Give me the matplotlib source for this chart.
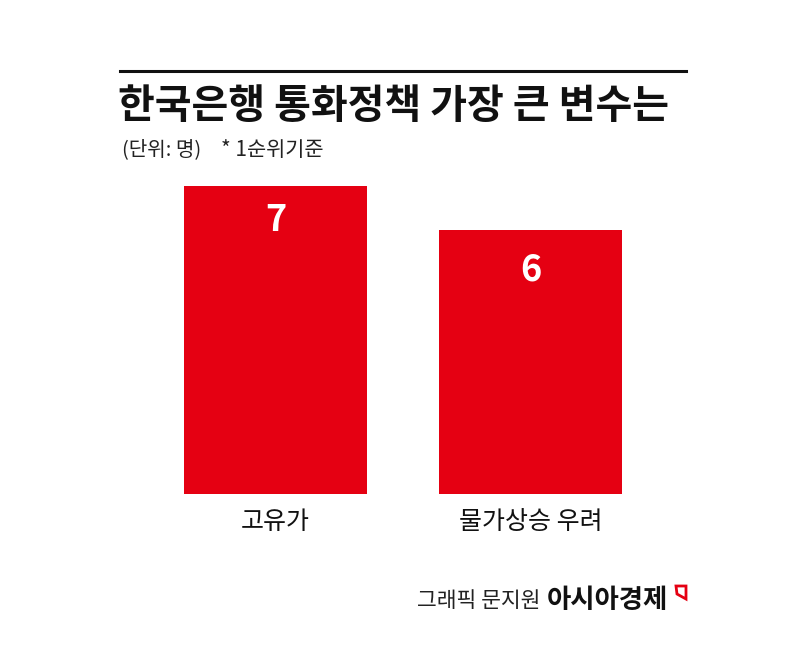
import matplotlib.pyplot as plt
from matplotlib.patches import Polygon

plt.rcParams['font.family'] = ['Noto Sans CJK KR', 'DejaVu Sans']

categories = ['고유가', '물가상승 우려']
values = [7, 6]

title = '한국은행 통화정책 가장 큰 변수는'
unit_note = '(단위: 명)'
rank_note = '* 1순위기준'
credit = '그래픽 문지원'
brand = '아시아경제'

W, H = 806, 645
fig = plt.figure(figsize=(W / 100, H / 100), dpi=100)

# axes spans the whole width; bars sit on pixel row 494
ax = fig.add_axes([0, (H - 494) / H, 1, 308 / H])
x = range(len(categories))
ax.bar(x, values, width=183 / 255, color='#E50012')
ax.set_xlim(-275.5 / 255, (W - 275.5) / 255)
ax.set_ylim(0, 7)
ax.axis('off')

label_drop = [-25, -29]  # points below bar top
for i, v in enumerate(values):
    ax.annotate(str(v), (i, v), xytext=(0, label_drop[i]), textcoords='offset points',
                ha='center', va='center', color='white', fontsize=26, fontweight='bold')
    ax.annotate(categories[i], (i, 0), xytext=(0, -20), textcoords='offset points',
                ha='center', va='center', color='#111111', fontsize=18)

# header
fig.add_artist(plt.Line2D([120 / W, 686 / W], [1 - 71 / H] * 2, color='#111111', lw=2.2))
fig.text(118 / W, 1 - 107 / H, title, ha='left', va='center', fontsize=28.8,
         fontweight='bold', color='#111111')
fig.text(122 / W, 1 - 150 / H, unit_note, ha='left', va='center', fontsize=14.5,
         color='#222222')
fig.text(221 / W, 1 - 150 / H, rank_note, ha='left', va='center', fontsize=15,
         color='#222222')

# footer
fig.text(540 / W, 1 - 601 / H, credit, ha='right', va='center', fontsize=15.5, color='#222222')
fig.text(547 / W, 1 - 601 / H, brand, ha='left', va='center', fontsize=19,
         fontweight='bold', color='#111111')
icon = [(676, 586), (686, 586), (686, 599), (677, 594)]
fig.add_artist(Polygon([(px / W, 1 - py / H) for px, py in icon], closed=True,
                       fill=False, edgecolor='#E50012', lw=2,
                       transform=fig.transFigure))

fig.savefig('out.png', dpi=100)
